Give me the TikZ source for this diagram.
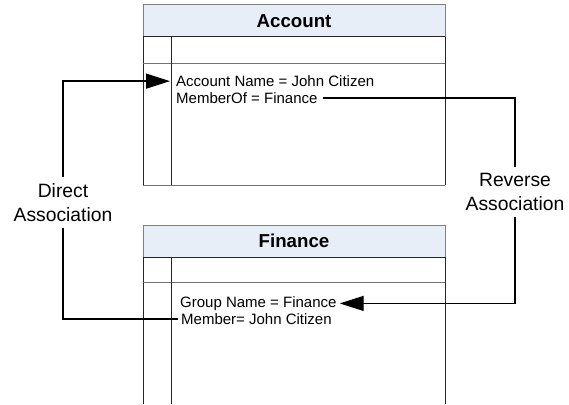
\documentclass[tikz,border=0pt]{standalone}
\usepackage{fontspec}
\setmainfont{Liberation Sans}
\usetikzlibrary{arrows.meta}
\definecolor{hdr}{RGB}{232,238,248}
\begin{document}
\begin{tikzpicture}[x=1pt,y=-1pt,
  boxline/.style={draw=black!85,line width=1pt},
  hdrline/.style={draw=black!50,line width=1pt},
  rowline/.style={draw=black!55,line width=1pt},
  hdrtext/.style={font=\fontsize{18.7}{22}\selectfont\bfseries,inner sep=0pt},
  body/.style={font=\fontsize{15}{17}\selectfont,anchor=base west,inner sep=0pt},
  lbl/.style={font=\fontsize{19.3}{24}\selectfont,align=center,inner xsep=2pt,inner ysep=0pt},
  conn/.style={draw=black,line width=1.3pt},
  tip/.style={-{Triangle[length=24pt,width=15pt]}}]
\useasboundingbox (0,0) rectangle (569,404);
% Account box
\draw[hdrline,fill=hdr] (143,5) rectangle (445,37);
\node[hdrtext] (acct) at (294,21) {Account};
\draw[boxline] (143,37) -- (143,185);
\draw[boxline] (445,37) -- (445,185);
\draw[boxline] (143,37) -- (445,37);
\draw[rowline] (143,185) -- (445,185);
\draw[rowline] (143,63) -- (445,63);
\draw[boxline] (171,37) -- (171,185);
\node[body] (accname) at (176,86.5) {Account Name = John Citizen};
\node[body] (memberof) at (176,103.5) {MemberOf = Finance};
% Finance box
\draw[hdrline,fill=hdr] (143,225) rectangle (445,257);
\node[hdrtext] (fin) at (294,241) {Finance};
\draw[boxline] (143,404) -- (143,257) -- (445,257) -- (445,404);
\draw[rowline] (143,282) -- (445,282);
\draw[boxline] (171,257) -- (171,404);
\node[body] (gname) at (180,307.3) {Group Name = Finance};
\node[body] (member) at (181,324.3) {Member= John Citizen};
% labels
\node[lbl,minimum height=51pt] (dlabel) at (63,202.5) {Direct\\Association};
\node[lbl,minimum height=50pt] (rlabel) at (515,192) {Reverse\\Association};
% connectors
\draw[conn,tip] (dlabel.north) |- ([xshift=-6pt]accname.west);
\draw[conn] (dlabel.south) |- ([xshift=-3pt]member.west);
\draw[conn] ([xshift=5pt]memberof.east) -| (rlabel.north);
\draw[conn,tip] (rlabel.south) |- ([xshift=3pt]gname.east);
\end{tikzpicture}
\end{document}
